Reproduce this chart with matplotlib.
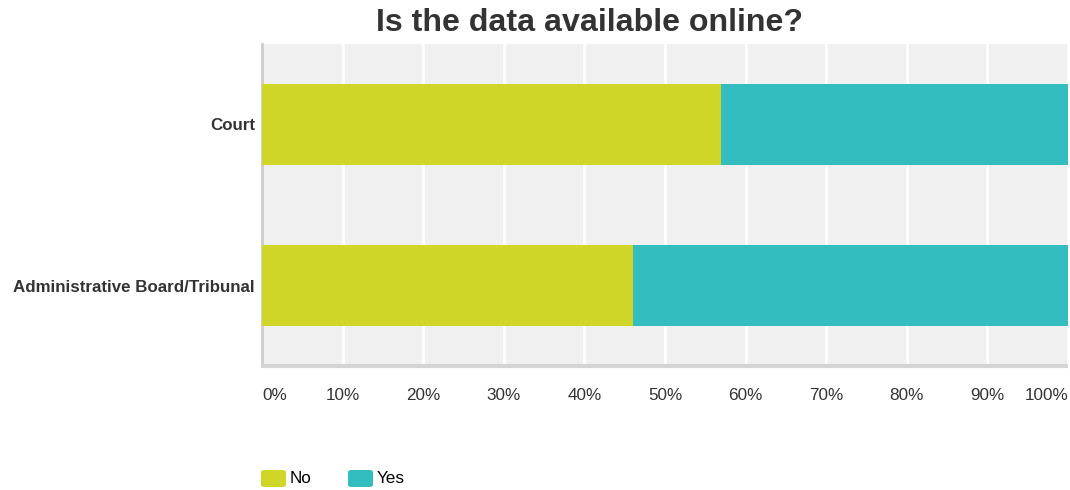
import matplotlib
matplotlib.use('Agg')
import matplotlib.pyplot as plt
from matplotlib.patches import FancyBboxPatch

plt.rcParams['font.family'] = ['Liberation Sans', 'DejaVu Sans']

categories = ['Court', 'Administrative Board/Tribunal']
no_vals = [57, 46]
yes_vals = [43, 54]
ticks = [0, 10, 20, 30, 40, 50, 60, 70, 80, 90, 100]
series = ['No', 'Yes']

C_NO = '#cfd628'
C_YES = '#33bdbf'
TXT = '#333333'
W, H = 1070, 490

fig = plt.figure(figsize=(W / 100, H / 100), dpi=100)
ax = fig.add_axes([262 / W, 124 / H, 806 / W, 322 / H])
ax.set_facecolor('#f0f0f0')

y = range(len(categories))
ax.barh(y, no_vals, height=0.5, color=C_NO, zorder=3)
ax.barh(y, yes_vals, left=no_vals, height=0.5, color=C_YES, zorder=3)

ax.set_xlim(0, 100)
ax.set_ylim(1.5, -0.5)
ax.set_xticks(ticks)
ax.set_xticklabels([])
ax.grid(axis='x', color='white', linewidth=2, zorder=1)
ax.tick_params(length=0)

ax.set_yticks(list(y))
ax.set_yticklabels(categories, fontsize=12.2, fontweight='bold', color=TXT)
ax.tick_params(axis='y', pad=5)

for s in ['top', 'right']:
    ax.spines[s].set_visible(False)
ax.spines['left'].set_color('#cccccc')
ax.spines['left'].set_linewidth(2)
ax.spines['bottom'].set_color('#d4d4d4')
ax.spines['bottom'].set_linewidth(3)
ax.spines['bottom'].set_capstyle('butt')

# percentage labels under the axis, end labels pulled inside
for t in ticks:
    ha = 'center'
    if t == 0:
        ha = 'left'
    elif t == 100:
        ha = 'right'
    ax.annotate(f'{t}%', xy=(t, 1.5), xycoords='data', xytext=(0, -21),
                textcoords='offset points', ha=ha, va='center',
                fontsize=12.3, color=TXT, annotation_clip=False)

fig.text(589.5 / W, 1 - 23 / H, 'Is the data available online?',
         ha='center', va='center', fontsize=23.1, fontweight='bold', color=TXT)

# legend keys along the bottom
for i, (name, col) in enumerate(zip(series, [C_NO, C_YES])):
    x0 = 261 + i * 87
    fig.add_artist(FancyBboxPatch((x0 / W, 1 - 487 / H), 25 / W, 17 / H,
                                  boxstyle='round,pad=0,rounding_size=0.004',
                                  transform=fig.transFigure, facecolor=col,
                                  edgecolor='none'))
    fig.text((x0 + 29) / W, 1 - 478 / H, name, ha='left', va='center',
             fontsize=12.3, color='black')

fig.savefig('out.png', dpi=100)
